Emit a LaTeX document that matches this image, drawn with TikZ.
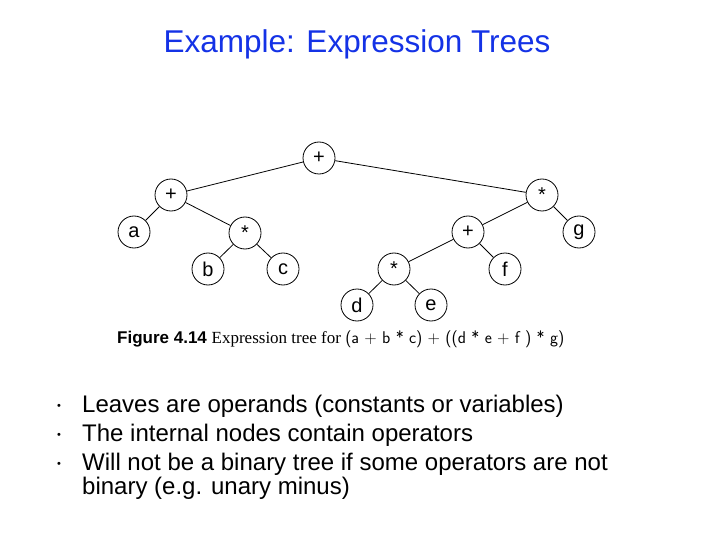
\documentclass[tikz,border=0pt]{standalone}
\usepackage{fontspec}
\setmainfont{Liberation Sans}
\newfontfamily\capfont{Liberation Serif}
\definecolor{titleblue}{RGB}{20,50,230}
\begin{document}
\begin{tikzpicture}[x=1pt,y=-1pt,
  tn/.style={circle,draw,line width=0.8pt,minimum size=32pt,inner sep=0pt,font=\fontsize{20}{20}\selectfont},
  edge/.style={line width=0.8pt},
  btxt/.style={anchor=west,inner sep=0pt,font=\fontsize{24}{24}\selectfont}]
\useasboundingbox (0,0) rectangle (720,540);
\node[font=\fontsize{31.5}{31.5}\selectfont,text=titleblue] (title) at (357,44) {Example: Expression Trees};
\node[tn] (r) at (319,158) {+};
\node[tn] (p1) at (171,195) {+};
\node[tn] (m1) at (542,195) {*};
\node[tn] (a) at (134,232) {a};
\node[tn] (m2) at (245,233) {*};
\node[tn] (p2) at (468,232) {+};
\node[tn] (g) at (579,232) {g};
\node[tn] (b) at (208,269) {b};
\node[tn] (c) at (283,269) {c};
\node[tn] (m3) at (394,269) {*};
\node[tn] (f) at (505,269) {f};
\node[tn] (d) at (357,305) {d};
\node[tn] (e) at (431,305) {e};
\foreach \u/\v in {r/p1,r/m1,p1/a,p1/m2,m2/b,m2/c,m1/p2,m1/g,p2/m3,p2/f,m3/d,m3/e}
  \draw[edge] (\u) -- (\v);
\node[anchor=west,inner sep=0pt,font=\fontsize{17}{17}\selectfont] (cap) at (117,339) {\textbf{Figure 4.14}\ \capfont Expression tree for {\sffamily (a + b * c) + ((d * e + f ) * g)}};
\node[font=\fontsize{11}{11}\selectfont] (b1) at (59,407) {•};
\node[font=\fontsize{11}{11}\selectfont] (b2) at (59,436) {•};
\node[font=\fontsize{11}{11}\selectfont] (b3) at (59,465) {•};
\node[btxt] (t1) at (82,406) {Leaves are operands (constants or variables)};
\node[btxt] (t2) at (82,435) {The internal nodes contain operators};
\node[btxt] (t3) at (82,464) {Will not be a binary tree if some operators are not};
\node[btxt] (t4) at (82,488) {binary (e.g. unary minus)};
\end{tikzpicture}
\end{document}
